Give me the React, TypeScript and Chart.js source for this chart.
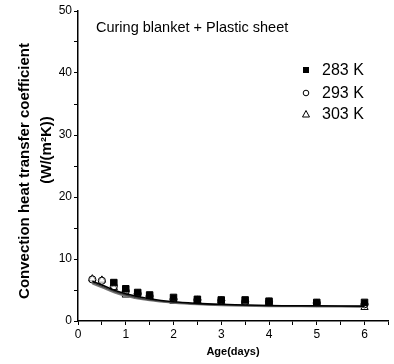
import React, { useEffect, useRef } from "react";
import { Chart, registerables } from "chart.js";
Chart.register(...registerables);

const ages = [0.3, 0.5, 0.75, 1, 1.25, 1.5, 2, 2.5, 3, 3.5, 4, 5, 6];
const h283 = [null, null, 6.2, 5.2, 4.6, 4.2, 3.8, 3.5, 3.4, 3.4, 3.2, 3.0, 3.0];
const h293 = [6.7, 6.5, 5.6, 4.8, 4.4, 4.0, 3.5, 3.4, 3.3, 3.1, 3.1, 2.9, 2.7];
const h303 = [6.8, 6.6, 5.4, 4.2, 4.0, 3.9, 3.2, 3.3, 3.2, 3.1, 3.0, 2.8, 2.2];

const fitAges = [0.3, 0.5, 0.75, 1, 1.5, 2, 2.5, 3, 4, 5, 6];
const fit283 = [6.4, 5.8, 5.0, 4.4, 3.6, 3.1, 2.85, 2.7, 2.5, 2.45, 2.4];
const fit293 = [6.2, 5.6, 4.8, 4.2, 3.4, 3.0, 2.75, 2.6, 2.45, 2.4, 2.35];
const fit303 = [6.0, 5.4, 4.6, 4.0, 3.3, 2.9, 2.65, 2.5, 2.35, 2.3, 2.25];

const seriesLabels = ["283 K", "293 K", "303 K"];
const chartTitle = "Curing blanket + Plastic sheet";
const yTitle = ["Convection heat transfer coefficient", "(W/(m\u00B2K))"];
const xTitle = "Age(days)";

const FONT = "'Liberation Sans', Arial, sans-serif";

const pts = (xs: number[], ys: (number | null)[]) =>
  xs.map((x, i) => ({ x, y: ys[i] })).filter((p) => p.y !== null);

export default function App() {
  const ref = useRef<HTMLCanvasElement>(null);
  useEffect(() => {
    if (!ref.current) return;
    const textPlugin = {
      id: "texts",
      afterDraw(chart: any) {
        const ctx = chart.ctx;
        ctx.save();
        ctx.fillStyle = "#000";
        // in-plot title
        ctx.font = `14.5px ${FONT}`;
        ctx.textAlign = "left";
        ctx.textBaseline = "middle";
        ctx.fillText(chartTitle, 96, 28);
        // legend
        const ly = [70, 93, 114];
        const lx = 306;
        ctx.font = `16px ${FONT}`;
        seriesLabels.forEach((lab, i) => {
          const y = ly[i];
          ctx.strokeStyle = "#000";
          ctx.lineWidth = 1;
          if (i === 0) {
            ctx.fillRect(lx - 3, y - 3, 6, 6);
          } else if (i === 1) {
            ctx.beginPath();
            ctx.arc(lx, y, 2.8, 0, Math.PI * 2);
            ctx.stroke();
          } else {
            ctx.beginPath();
            ctx.moveTo(lx, y - 3.5);
            ctx.lineTo(lx + 3.5, y + 3);
            ctx.lineTo(lx - 3.5, y + 3);
            ctx.closePath();
            ctx.stroke();
          }
          ctx.fillText(lab, lx + 16, y + 1);
        });
        // axis titles
        ctx.font = `bold 15px ${FONT}`;
        ctx.textAlign = "center";
        ctx.save();
        ctx.translate(25, 171);
        ctx.rotate(-Math.PI / 2);
        ctx.fillText(yTitle[0], 0, 0);
        ctx.restore();
        ctx.save();
        ctx.translate(47, 150);
        ctx.rotate(-Math.PI / 2);
        ctx.fillText(yTitle[1], 0, 0);
        ctx.restore();
        ctx.font = `bold 11px ${FONT}`;
        ctx.fillText(xTitle, 233, 352);
        ctx.restore();
      },
    };

    const chart = new Chart(ref.current, {
      type: "scatter",
      data: {
        datasets: [
          {
            type: "line",
            data: pts(fitAges, fit283),
            borderColor: "#000",
            borderWidth: 1.6,
            pointRadius: 0,
            cubicInterpolationMode: "monotone",
            showLine: true,
          },
          {
            type: "line",
            data: pts(fitAges, fit293),
            borderColor: "#444",
            borderWidth: 1.4,
            pointRadius: 0,
            cubicInterpolationMode: "monotone",
            showLine: true,
          },
          {
            type: "line",
            data: pts(fitAges, fit303),
            borderColor: "#777",
            borderWidth: 1.4,
            pointRadius: 0,
            cubicInterpolationMode: "monotone",
            showLine: true,
          },
          {
            label: seriesLabels[0],
            data: pts(ages, h283),
            pointStyle: "rect",
            pointRadius: 4.6,
            backgroundColor: "#000",
            borderColor: "#000",
            borderWidth: 1,
          },
          {
            label: seriesLabels[1],
            data: pts(ages, h293),
            pointStyle: "circle",
            pointRadius: 3.6,
            backgroundColor: "rgba(255,255,255,0.6)",
            borderColor: "#000",
            borderWidth: 1,
          },
          {
            label: seriesLabels[2],
            data: pts(ages, h303),
            pointStyle: "triangle",
            pointRadius: 4.2,
            backgroundColor: "rgba(255,255,255,0.6)",
            borderColor: "#000",
            borderWidth: 1,
          },
        ],
      } as any,
      options: {
        animation: false,
        responsive: false,
        events: [],
        layout: { padding: { top: 11, right: 2, left: 0, bottom: 0 } },
        plugins: { legend: { display: false }, tooltip: { enabled: false } },
        scales: {
          x: {
            type: "linear",
            min: 0,
            max: 6.5,
            afterFit: (s: any) => {
              s.height = 43;
            },
            border: { display: true, color: "#000", width: 1.5 },
            grid: { drawOnChartArea: false, drawTicks: true, tickLength: 4, color: "#000", lineWidth: 1 },
            ticks: {
              stepSize: 0.5,
              autoSkip: false,
              maxRotation: 0,
              color: "#000",
              font: { family: FONT, size: 12 },
              padding: 2,
              callback: (v: any) => (Number(v) % 1 === 0 ? String(v) : ""),
            },
          },
          y: {
            min: 0,
            max: 50,
            afterFit: (s: any) => {
              s.width = 78;
            },
            border: { display: true, color: "#000", width: 1.5 },
            grid: { drawOnChartArea: false, drawTicks: true, tickLength: 4, color: "#000", lineWidth: 1 },
            ticks: {
              stepSize: 5,
              autoSkip: false,
              color: "#000",
              font: { family: FONT, size: 12 },
              padding: 2,
              callback: (v: any) => (Number(v) % 10 === 0 ? String(v) : ""),
            },
          },
        },
      } as any,
      plugins: [textPlugin],
    });
    return () => chart.destroy();
  }, []);

  return (
    <div style={{ position: "absolute", left: 0, top: 0, width: 394, height: 364, background: "#fff" }}>
      <canvas ref={ref} width={394} height={364} style={{ width: 394, height: 364, display: "block" }} />
    </div>
  );
}
